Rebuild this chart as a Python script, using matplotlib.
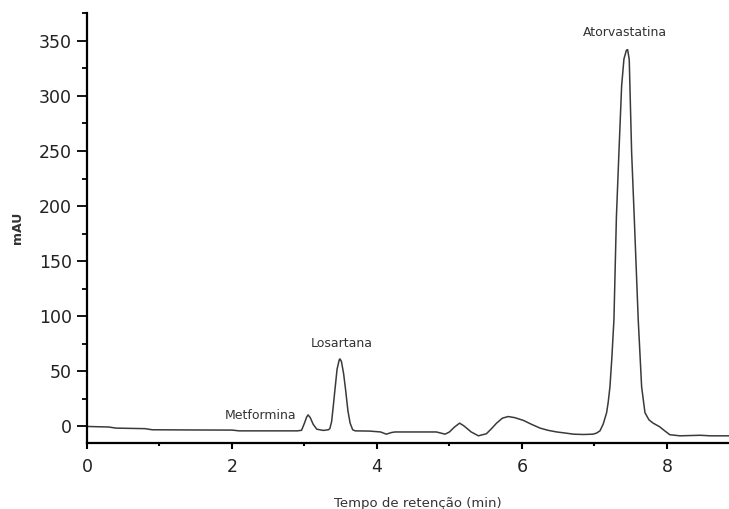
import matplotlib
matplotlib.use("Agg")
from matplotlib import pyplot as plt
from matplotlib.ticker import MultipleLocator

tempo = [0.0, 0.3, 0.4, 0.8, 0.9, 1.5, 2.0, 2.1, 2.6, 2.9,
         2.96, 3.0, 3.03, 3.05, 3.08, 3.12, 3.17, 3.26, 3.33,
         3.35, 3.375, 3.40, 3.42, 3.45, 3.48, 3.49, 3.51, 3.54, 3.568, 3.60, 3.63, 3.665, 3.7,
         3.9, 4.05, 4.13, 4.2, 4.25, 4.82, 4.94, 5.0, 5.07, 5.14, 5.2, 5.3, 5.40, 5.51,
         5.58, 5.65, 5.73, 5.81, 5.9, 6.02, 6.13, 6.25, 6.36, 6.48, 6.6, 6.71, 6.85, 6.98,
         7.03, 7.076, 7.12, 7.168, 7.19, 7.214, 7.24, 7.269, 7.303, 7.338, 7.375, 7.407, 7.441,
         7.458, 7.48, 7.513, 7.549, 7.604, 7.651, 7.697, 7.752, 7.81, 7.90, 7.97, 8.04,
         8.18, 8.46, 8.6, 8.9, 9.0]
mau = [0, -0.5, -1.5, -2, -3, -3.2, -3.3, -4, -4, -4,
       -3.5, 3, 8.5, 10.5, 8, 2, -2.5, -3.6, -3,
       -2, 4.5, 20, 33, 52, 60.5, 61.3, 59, 48, 33, 14, 3, -3, -4,
       -4.2, -5, -7, -5.5, -5, -5, -7, -5, -0.5, 3, 0.5, -5, -8.5, -6.6,
       -2, 3, 7.5, 9, 8, 5.5, 2, -1.5, -3.5, -5, -6, -7, -7.3, -7,
       -6, -4, 2, 12.5, 22, 36, 62, 97, 190, 249, 309, 333.5, 341.5,
       342, 333, 249, 190, 97, 36, 12.5, 6, 3, -0.3, -4, -7.5,
       -8.5, -8, -8.5, -8.5, -8.5]

picos = ["Metformina", "Losartana", "Atorvastatina"]
pico_x = [2.39, 3.51, 7.42]
pico_y = [10, 75, 357.6]

fig = plt.figure(figsize=(7.29, 5.09), dpi=100)
ax = fig.add_axes([0.1193, 0.1297, 0.895, 0.8442])

ax.plot(tempo, mau, color="#3a3a3a", lw=1.1)

for nome, px, py in zip(picos, pico_x, pico_y):
    ax.text(px, py, nome, ha="center", va="center", fontsize=9, color="#333333")

ax.set_xlim(0, 9)
ax.set_ylim(-15, 375)
ax.spines["top"].set_visible(False)
ax.spines["right"].set_visible(False)
ax.spines["left"].set_linewidth(1.6)
ax.spines["bottom"].set_linewidth(1.6)

ax.xaxis.set_major_locator(MultipleLocator(2))
ax.xaxis.set_minor_locator(MultipleLocator(1))
ax.yaxis.set_major_locator(MultipleLocator(50))
ax.yaxis.set_minor_locator(MultipleLocator(25))
ax.tick_params(axis="x", which="major", length=4.5, width=1.5, pad=6,
               labelsize=12.5, labelcolor="#222222")
ax.tick_params(axis="x", which="minor", length=2.5, width=1.5)
ax.tick_params(axis="y", which="major", length=7, width=1.3, pad=4,
               labelsize=12.5, labelcolor="#222222")
ax.tick_params(axis="y", which="minor", length=3.5, width=1.3)

ax.set_xlabel("Tempo de retenção (min)", fontsize=9.5, color="#333333")
ax.xaxis.set_label_coords(0.507, -0.126)
ax.set_ylabel("mAU", fontsize=9, fontweight="bold", color="#333333")
ax.yaxis.set_label_coords(-0.097, 0.5)

fig.savefig("out.png", dpi=100)
